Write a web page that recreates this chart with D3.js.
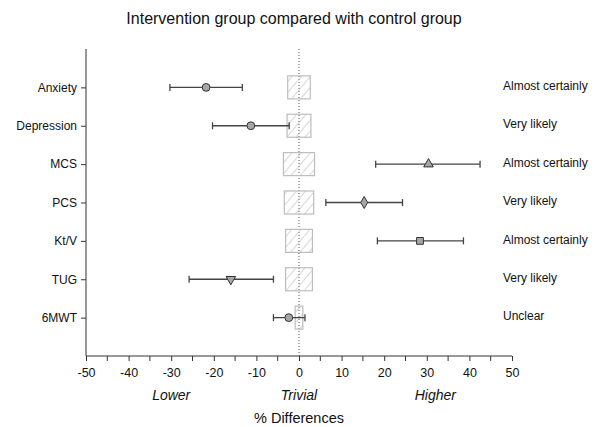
<!DOCTYPE html>
<html>
<head>
<meta charset="utf-8">
<script src="https://cdn.jsdelivr.net/npm/d3@7"></script>
<style>
body { margin: 0; background: #fff; }
svg { font-family: 'Liberation Sans', Arial, sans-serif; }
</style>
</head>
<body>
<svg id="chart" width="595" height="427"></svg>
<script>
// outcomes, top to bottom
let outcomes = ['Anxiety', 'Depression', 'MCS', 'PCS', 'Kt/V', 'TUG', '6MWT']
let means = [-21.8, -11.3, 30.4, 15.3, 28.4, -16.0, -2.4]
let lowerCI = [-30.3, -20.3, 18.0, 6.3, 18.4, -25.8, -6.0]
let upperCI = [-13.3, -2.3, 42.5, 24.3, 38.6, -6.0, 1.4]
let trivial = [2.65, 2.8, 3.65, 3.45, 3.15, 3.15, 0.9] // smallest worthwhile change (+/-)
let shapes = ['circle', 'circle', 'triangle', 'diamond', 'square', 'triangleDown', 'circle']
let inference = ['Almost certainly', 'Very likely', 'Almost certainly', 'Very likely',
    'Almost certainly', 'Very likely', 'Unclear']
let xTicks = [-50, -40, -30, -20, -10, 0, 10, 20, 30, 40, 50]
let zoneLabels = [{text: 'Lower', x: -30}, {text: 'Trivial', x: 0}, {text: 'Higher', x: 32}]

let margin = {top: 49, left: 86, right: 83, bottom: 71}
let width = 595 - margin.left - margin.right
let height = 427 - margin.top - margin.bottom

let svg = d3.select('#chart')

// hatch for the trivial boxes
let defs = svg.append('defs')
defs.append('pattern')
    .attr('id', 'hatch')
    .attr('patternUnits', 'userSpaceOnUse')
    .attr('width', 7)
    .attr('height', 7)
    .attr('patternTransform', 'rotate(40)')
    .append('line')
        .attr('x1', 0).attr('y1', 0)
        .attr('x2', 0).attr('y2', 7)
        .attr('stroke', '#b4b4b4')
        .attr('stroke-width', 1.1)

svg.append('text')
    .attr('x', 294)
    .attr('y', 24)
    .attr('text-anchor', 'middle')
    .style('font-size', '16px')
    .attr('fill', '#111')
    .text('Intervention group compared with control group')

let g = svg.append('g')
    .attr('transform', 'translate(' + margin.left + ',' + margin.top + ')')

let x = d3.scaleLinear().domain([-50, 50]).range([0, width])
let y = d3.scaleLinear().domain([0, outcomes.length + 1]).range([height, 0])
let rowY = i => y(outcomes.length - i)
let bandH = y(0) - y(1)

// x axis, major ticks every 10, minor every 5
let xAxis = d3.axisBottom(x).tickValues(xTicks).tickSize(5).tickPadding(7).tickFormat(d => String(d))
let xg = g.append('g')
    .attr('transform', 'translate(0,' + height + ')')
    .call(xAxis)
xg.style('font-size', '12.5px').style('font-family', "'Liberation Sans', Arial, sans-serif")
xg.select('.domain').attr('d', 'M0,0H' + width).attr('stroke', '#333')
xg.selectAll('.tick line').attr('stroke', '#333')
xg.selectAll('.tick text').attr('fill', '#111')
let minorTicks = d3.range(-45, 50, 10)
xg.selectAll('.minor')
    .data(minorTicks)
    .enter().append('line')
        .attr('class', 'minor')
        .attr('x1', d => x(d)).attr('x2', d => x(d))
        .attr('y1', 0).attr('y2', 5)
        .attr('stroke', '#333')

// y axis
let yAxis = d3.axisLeft(y)
    .tickValues(d3.range(outcomes.length).map(i => outcomes.length - i))
    .tickFormat(d => outcomes[outcomes.length - d])
    .tickSize(5).tickPadding(4)
let yg = g.append('g').call(yAxis)
yg.style('font-size', '12px').style('font-family', "'Liberation Sans', Arial, sans-serif")
yg.select('.domain').attr('d', 'M0,0V' + height).attr('stroke', '#333')
yg.selectAll('.tick line').attr('stroke', '#333')
yg.selectAll('.tick text').attr('fill', '#111')

// zero reference line
g.append('line')
    .attr('x1', x(0)).attr('x2', x(0))
    .attr('y1', 0).attr('y2', height)
    .attr('stroke', '#555')
    .attr('stroke-width', 1)
    .attr('stroke-dasharray', '1,2')

let rows = g.selectAll('.row')
    .data(outcomes)
    .enter().append('g')
    .attr('class', 'row')

// trivial boxes
rows.append('rect')
    .attr('x', (d, i) => x(-trivial[i]))
    .attr('width', (d, i) => x(trivial[i]) - x(-trivial[i]))
    .attr('y', (d, i) => rowY(i) - bandH * 0.3)
    .attr('height', bandH * 0.6)
    .attr('fill', 'url(#hatch)')
    .attr('stroke', '#bdbdbd')
    .attr('stroke-width', 1.2)

// confidence intervals
let capH = 3.5
rows.append('line')
    .attr('x1', (d, i) => x(lowerCI[i]))
    .attr('x2', (d, i) => x(upperCI[i]))
    .attr('y1', (d, i) => rowY(i))
    .attr('y2', (d, i) => rowY(i))
    .attr('stroke', '#444')
    .attr('stroke-width', 1.3)
rows.append('line')
    .attr('x1', (d, i) => x(lowerCI[i])).attr('x2', (d, i) => x(lowerCI[i]))
    .attr('y1', (d, i) => rowY(i) - capH).attr('y2', (d, i) => rowY(i) + capH)
    .attr('stroke', '#444').attr('stroke-width', 1.3)
rows.append('line')
    .attr('x1', (d, i) => x(upperCI[i])).attr('x2', (d, i) => x(upperCI[i]))
    .attr('y1', (d, i) => rowY(i) - capH).attr('y2', (d, i) => rowY(i) + capH)
    .attr('stroke', '#444').attr('stroke-width', 1.3)

// point estimates
let symbolFor = {
    circle: d3.symbol().type(d3.symbolCircle).size(48),
    square: d3.symbol().type(d3.symbolSquare).size(46),
    diamond: d3.symbol().type(d3.symbolDiamond).size(42),
    triangle: d3.symbol().type(d3.symbolTriangle).size(40),
    triangleDown: d3.symbol().type(d3.symbolTriangle).size(40)
}
rows.append('path')
    .attr('d', (d, i) => symbolFor[shapes[i]]())
    .attr('transform', (d, i) => 'translate(' + x(means[i]) + ',' + rowY(i) + ')' +
        (shapes[i] == 'triangleDown' ? ' rotate(180)' : ''))
    .attr('fill', '#a6a6a6')
    .attr('stroke', '#333')
    .attr('stroke-width', 1)

// qualitative inference on the right
rows.append('text')
    .attr('x', width - 9)
    .attr('y', (d, i) => rowY(i) - 1.5)
    .attr('dy', '0.35em')
    .style('font-size', '12px')
    .attr('fill', '#111')
    .text((d, i) => inference[i])

// zone labels under the axis
g.selectAll('.zone')
    .data(zoneLabels)
    .enter().append('text')
        .attr('class', 'zone')
        .attr('x', d => x(d.x))
        .attr('y', height + 44)
        .attr('text-anchor', 'middle')
        .style('font-size', '14px')
        .style('font-style', 'italic')
        .attr('fill', '#111')
        .text(d => d.text)

g.append('text')
    .attr('x', x(0))
    .attr('y', height + 67)
    .attr('text-anchor', 'middle')
    .style('font-size', '14.5px')
    .attr('fill', '#111')
    .text('% Differences')
</script>
</body>
</html>
